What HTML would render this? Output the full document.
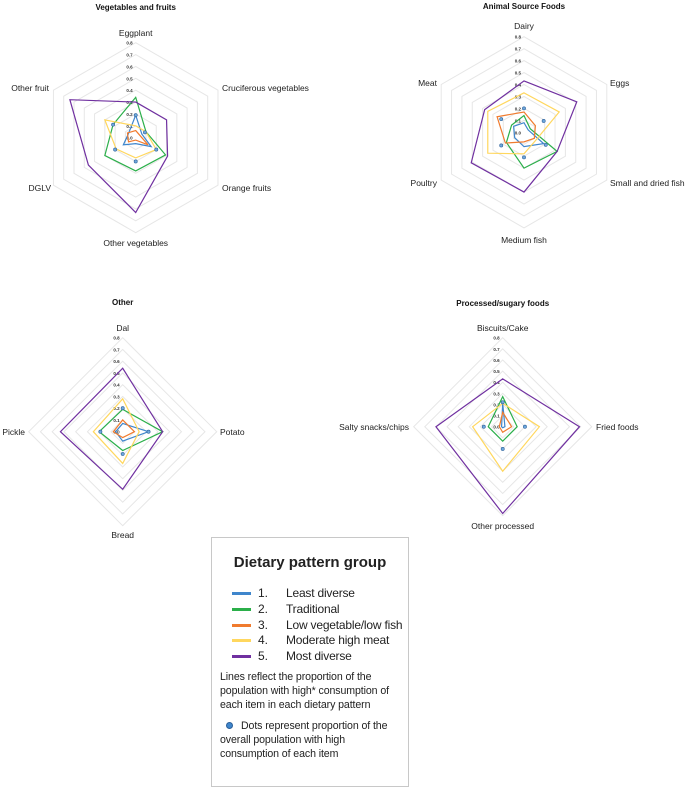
<!DOCTYPE html>
<html><head><meta charset="utf-8">
<style>
body{margin:0;background:#fff;font-family:"Liberation Sans",sans-serif;}
#wrap{position:relative;width:690px;height:794px;overflow:hidden;}
svg{position:absolute;left:0;top:0;}
#legend{position:absolute;left:211px;top:537px;width:198px;height:250px;border:1px solid #c8c8c8;box-sizing:border-box;font-family:"Liberation Sans",sans-serif;color:#222;}
.lt{position:absolute;left:0;width:100%;text-align:center;top:16px;font-size:15px;font-weight:bold;}
.le{position:absolute;left:20px;font-size:12px;height:15px;line-height:15px;}
.le .sw{position:absolute;left:0;top:6px;width:19px;height:3px;}
.le .n{position:absolute;left:26px;}
.le .t{position:absolute;left:54px;white-space:nowrap;letter-spacing:-0.2px;}
.p{position:absolute;left:8px;font-size:10.6px;line-height:14px;width:176px;letter-spacing:-0.1px;}
</style></head>
<body>
<div id="wrap">
<svg id="chart" width="690" height="794"></svg>
<div id="legend">
 <div class="lt">Dietary pattern group</div>
 <div class="le" style="top:48px"><span class="sw" style="background:#3F86CC"></span><span class="n">1.</span><span class="t">Least diverse</span></div>
 <div class="le" style="top:64px"><span class="sw" style="background:#2BAF4A"></span><span class="n">2.</span><span class="t">Traditional</span></div>
 <div class="le" style="top:80px"><span class="sw" style="background:#F07B2E"></span><span class="n">3.</span><span class="t">Low vegetable/low fish</span></div>
 <div class="le" style="top:95px"><span class="sw" style="background:#FFD75E"></span><span class="n">4.</span><span class="t">Moderate high meat</span></div>
 <div class="le" style="top:111px"><span class="sw" style="background:#7030A0"></span><span class="n">5.</span><span class="t">Most diverse</span></div>
 <div class="p" style="top:132px">Lines reflect the proportion of the population with high* consumption of each item in each dietary pattern</div>
 <div class="p" style="top:181px"><span style="display:inline-block;width:5px;height:5px;border-radius:50%;background:#3F86CC;border:1px solid #2a5f99;margin:0 8px 1px 6px;vertical-align:middle"></span>Dots represent proportion of the overall population with high consumption of each item</div>
</div>
</div>
<script>
const colors=["#3F86CC","#2BAF4A","#F07B2E","#FFD75E","#7030A0"];
const ticks=["0.0","0.1","0.2","0.3","0.4","0.5","0.6","0.7","0.8"];

const vegCats=["Eggplant","Cruciferous vegetables","Orange fruits","Other vegetables","DGLV","Other fruit"];
const vegLeast=[0.19,0.06,0.15,0.05,0.12,0.07];
const vegTrad=[0.34,0.10,0.29,0.28,0.30,0.22];
const vegLowVeg=[0.06,0.04,0.12,0.02,0.07,0.08];
const vegMeat=[0.10,0.10,0.20,0.17,0.19,0.30];
const vegMost=[0.30,0.30,0.31,0.63,0.46,0.64];
const vegDots=[0.19,0.09,0.20,0.20,0.20,0.22];

const asfCats=["Dairy","Eggs","Small and dried fish","Medium fish","Poultry","Meat"];
const asfLeast=[0.08,0.04,0.19,0.12,0.09,0.10];
const asfTrad=[0.14,0.06,0.32,0.30,0.17,0.12];
const asfLowVeg=[0.17,0.11,0.10,0.08,0.18,0.26];
const asfMeat=[0.33,0.34,0.12,0.18,0.35,0.35];
const asfMost=[0.43,0.51,0.32,0.50,0.51,0.38];
const asfDots=[0.20,0.19,0.21,0.21,0.22,0.22];

const othCats=["Dal","Potato","Bread","Pickle"];
const othLeast=[0.07,0.22,0.08,0.06];
const othTrad=[0.19,0.34,0.16,0.20];
const othLowVeg=[0.10,0.10,0.05,0.08];
const othMeat=[0.28,0.14,0.27,0.25];
const othMost=[0.54,0.34,0.49,0.53];
const othDots=[0.20,0.22,0.19,0.19];

const proCats=["Biscuits/Cake","Fried foods","Other processed","Salty snacks/chips"];
const proLeast=[0.21,0.02,0.01,0.01];
const proTrad=[0.27,0.13,0.13,0.13];
const proLowVeg=[0.13,0.08,0.05,0.03];
const proMeat=[0.21,0.33,0.40,0.27];
const proMost=[0.43,0.69,0.78,0.60];
const proDots=[0.22,0.20,0.20,0.17];

const NS="http://www.w3.org/2000/svg";
const svg=document.getElementById('chart');
function mk(tag,attrs,parent){const e=document.createElementNS(NS,tag);for(const k in attrs)e.setAttribute(k,attrs[k]);(parent||svg).appendChild(e);return e;}

function radar(o){
  const g=mk('g',{});
  
  
  const n=o.cats.length;
  const ang=i=>(-90+360*i/n)*Math.PI/180;
  const pt=(i,v)=>[o.cx+Math.cos(ang(i))*v/0.8*o.R,o.cy+Math.sin(ang(i))*v/0.8*o.R];
  for(let t=1;t<=8;t++){
    const pts=o.cats.map((c,i)=>pt(i,t/10).join(',')).join(' ');
    const r=mk('polygon',{points:pts,fill:'none',stroke:'#e6e6e6','stroke-width':1},g);
    
    
  }
  const title=mk('text',{x:o.cx,y:o.ty,'text-anchor':'middle','font-size':8,'font-weight':'bold',fill:'#111'},g);
  title.textContent=o.title;
  
  
  ticks.forEach((tk,t)=>{
    const te=mk('text',{x:o.cx-3,y:o.cy-o.R*t/8+2,'text-anchor':'end','font-size':4.5,'font-weight':'bold',fill:'#333'},g);
    te.textContent=tk;
    
    
  });
  o.cats.forEach((c,i)=>{
    const [lx,ly]=o.labels[i];
    const te=mk('text',{x:lx,y:ly,'text-anchor':o.anchors[i],'font-size':8.5,fill:'#222'},g);
    te.textContent=c;
    
    
  });
  o.series.forEach((s,si)=>{
    const pts=s.map((v,i)=>pt(i,v).join(',')).join(' ');
    const p=mk('polygon',{points:pts,fill:'none',stroke:colors[si],'stroke-width':1.2},g);
    
    
  });
  o.dots.forEach((v,i)=>{
    const [x,y]=pt(i,v);
    const d=mk('circle',{cx:x,cy:y,r:1.6,fill:'#6fa8dc',stroke:'#2a5f99','stroke-width':0.6},g);
    
    
  });
}

radar({name:'vegetables-fruits-radar',title:'Vegetables and fruits',cx:135.7,cy:137.7,R:95,ty:10,cats:vegCats,
  labels:[[135.7,36],[222,91],[222,191],[135.7,246],[51,191],[49,91]],anchors:['middle','start','start','middle','end','end'],
  series:[vegLeast,vegTrad,vegLowVeg,vegMeat,vegMost],dots:vegDots});
radar({name:'animal-source-foods-radar',title:'Animal Source Foods',cx:524,cy:132.3,R:95.6,ty:9,cats:asfCats,
  labels:[[524,29],[610,86],[610,186],[524,243],[437,186],[437,86]],anchors:['middle','start','start','middle','end','end'],
  series:[asfLeast,asfTrad,asfLowVeg,asfMeat,asfMost],dots:asfDots});
radar({name:'other-radar',title:'Other',cx:122.7,cy:431.7,R:94,ty:305,cats:othCats,
  labels:[[122.7,331],[220,435],[122.7,538],[25,435]],anchors:['middle','start','middle','end'],
  series:[othLeast,othTrad,othLowVeg,othMeat,othMost],dots:othDots});
radar({name:'processed-sugary-radar',title:'Processed/sugary foods',cx:502.7,cy:426.7,R:89,ty:306,cats:proCats,
  labels:[[502.7,331],[596,430],[502.7,529],[409,430]],anchors:['middle','start','middle','end'],
  series:[proLeast,proTrad,proLowVeg,proMeat,proMost],dots:proDots});
</script>
</body></html>
